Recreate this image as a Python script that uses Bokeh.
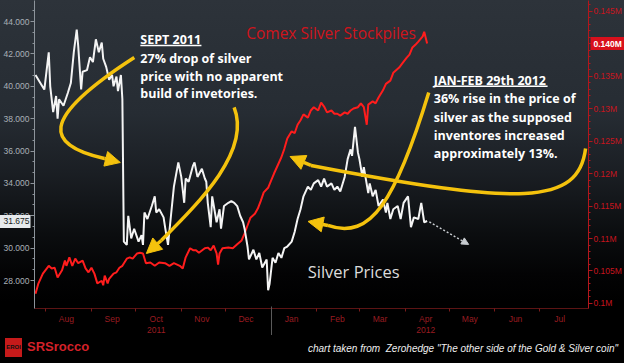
import pandas as pd
from bokeh.plotting import figure
from bokeh.layouts import column
from bokeh.models import (Range1d, LinearAxis, FixedTicker, NumeralTickFormatter,
                          Label, Arrow, NormalHead, Div)
from bokeh.embed import file_html
from bokeh.resources import INLINE

EPOCH = pd.Timestamp("2012-01-01")

# ---------------- data ----------------
silver_dates = [
    "2011-07-25", "2011-07-29", "2011-07-31", "2011-08-03", "2011-08-04", "2011-08-06",
    "2011-08-08", "2011-08-09", "2011-08-10", "2011-08-13", "2011-08-16", "2011-08-18",
    "2011-08-20", "2011-08-22", "2011-08-23", "2011-08-25", "2011-08-26", "2011-08-29",
    "2011-08-31", "2011-09-02", "2011-09-04", "2011-09-06", "2011-09-08", "2011-09-09",
    "2011-09-11", "2011-09-13", "2011-09-15", "2011-09-16", "2011-09-18", "2011-09-19",
    "2011-09-21", "2011-09-22", "2011-09-23", "2011-09-25", "2011-09-26", "2011-09-28",
    "2011-09-30", "2011-10-03", "2011-10-05", "2011-10-06", "2011-10-07", "2011-10-09",
    "2011-10-12", "2011-10-14", "2011-10-15", "2011-10-17", "2011-10-20", "2011-10-21",
    "2011-10-23", "2011-10-25", "2011-10-27", "2011-10-30", "2011-11-01", "2011-11-03",
    "2011-11-04", "2011-11-06", "2011-11-09", "2011-11-10", "2011-11-12", "2011-11-15",
    "2011-11-17", "2011-11-18", "2011-11-19", "2011-11-21", "2011-11-22", "2011-11-25",
    "2011-11-27", "2011-11-28", "2011-11-30", "2011-12-03", "2011-12-05", "2011-12-07",
    "2011-12-09", "2011-12-11", "2011-12-13", "2011-12-14", "2011-12-16", "2011-12-17",
    "2011-12-20", "2011-12-22", "2011-12-24", "2011-12-26", "2011-12-29", "2011-12-30",
    "2011-12-31", "2012-01-02", "2012-01-04", "2012-01-06", "2012-01-08", "2012-01-10",
    "2012-01-12", "2012-01-15", "2012-01-17", "2012-01-19", "2012-01-21", "2012-01-23",
    "2012-01-26", "2012-01-28", "2012-01-30", "2012-02-02", "2012-02-04", "2012-02-06",
    "2012-02-08", "2012-02-11", "2012-02-13", "2012-02-15", "2012-02-17", "2012-02-20",
    "2012-02-22", "2012-02-24", "2012-02-25", "2012-02-27", "2012-02-29", "2012-03-01",
    "2012-03-03", "2012-03-04", "2012-03-07", "2012-03-08", "2012-03-10", "2012-03-12",
    "2012-03-14", "2012-03-17", "2012-03-19", "2012-03-20", "2012-03-22", "2012-03-24",
    "2012-03-27", "2012-03-29", "2012-03-31", "2012-04-03", "2012-04-05", "2012-04-07",
    "2012-04-10", "2012-04-12", "2012-04-14", "2012-04-16",
]
silver_prices = [
    40.7, 40.1, 39.8, 42.1, 40.0, 38.4,
    39.4, 38.0, 39.2, 38.8, 39.6, 40.2,
    42.1, 43.5, 42.5, 39.8, 40.9, 41.0,
    41.8, 41.5, 42.9, 42.1, 42.7, 41.7,
    41.2, 40.4, 40.7, 40.0, 40.6, 39.7,
    40.7, 39.2, 30.4, 30.2, 32.0, 30.6,
    31.2, 30.4, 30.8, 30.2, 32.2, 31.8,
    32.6, 33.2, 32.2, 32.4, 31.9, 31.3,
    30.2, 32.0, 33.8, 35.3, 34.4, 32.8,
    34.3, 34.1, 35.1, 35.3, 34.4, 34.9,
    34.3, 34.1, 32.8, 31.3, 33.2, 31.6,
    32.4, 31.2, 32.6, 32.8, 32.9, 32.8,
    32.6, 32.0, 31.6, 31.2, 30.1, 29.3,
    29.9, 29.3, 29.7, 28.8, 29.3, 27.4,
    27.8, 29.4, 29.1, 29.7, 29.4, 30.0,
    30.1, 30.4, 31.0, 31.8, 32.4, 33.2,
    33.8, 33.6, 34.0, 34.2, 33.8, 34.3,
    33.8, 34.0, 33.6, 33.8, 33.5, 34.4,
    35.5, 36.1, 35.7, 37.5, 35.9, 35.5,
    34.4, 35.0, 33.4, 34.0, 33.2, 33.6,
    32.6, 33.0, 32.2, 32.8, 31.8, 32.4,
    32.6, 31.8, 32.8, 33.2, 31.3, 31.9,
    31.8, 32.8, 31.6, 31.675,
]

stock_dates = [
    "2011-07-25", "2011-07-27", "2011-07-30", "2011-08-03", "2011-08-05", "2011-08-07",
    "2011-08-09", "2011-08-12", "2011-08-14", "2011-08-15", "2011-08-17", "2011-08-19",
    "2011-08-21", "2011-08-23", "2011-08-26", "2011-08-28", "2011-08-30", "2011-09-01",
    "2011-09-03", "2011-09-05", "2011-09-08", "2011-09-09", "2011-09-10", "2011-09-12",
    "2011-09-13", "2011-09-16", "2011-09-18", "2011-09-20", "2011-09-22", "2011-09-25",
    "2011-09-27", "2011-09-29", "2011-10-02", "2011-10-04", "2011-10-06", "2011-10-08",
    "2011-10-11", "2011-10-14", "2011-10-17", "2011-10-21", "2011-10-24", "2011-10-27",
    "2011-10-31", "2011-11-02", "2011-11-04", "2011-11-07", "2011-11-09", "2011-11-11",
    "2011-11-13", "2011-11-17", "2011-11-19", "2011-11-21", "2011-11-23", "2011-11-25",
    "2011-11-26", "2011-11-27", "2011-11-29", "2011-12-03", "2011-12-06", "2011-12-09",
    "2011-12-12", "2011-12-14", "2011-12-16", "2011-12-18", "2011-12-21", "2011-12-23",
    "2011-12-25", "2011-12-27", "2011-12-30", "2012-01-01", "2012-01-03", "2012-01-06",
    "2012-01-08", "2012-01-10", "2012-01-12", "2012-01-15", "2012-01-17", "2012-01-19",
    "2012-01-21", "2012-01-23", "2012-01-26", "2012-01-28", "2012-01-30", "2012-02-02",
    "2012-02-04", "2012-02-06", "2012-02-08", "2012-02-11", "2012-02-13", "2012-02-15",
    "2012-02-17", "2012-02-20", "2012-02-22", "2012-02-24", "2012-02-26", "2012-02-29",
    "2012-03-02", "2012-03-04", "2012-03-06", "2012-03-07", "2012-03-10", "2012-03-12",
    "2012-03-14", "2012-03-17", "2012-03-19", "2012-03-22", "2012-03-24", "2012-03-28",
    "2012-03-30", "2012-04-02", "2012-04-04", "2012-04-06", "2012-04-08", "2012-04-10",
    "2012-04-13", "2012-04-14", "2012-04-16",
]
stock_millions = [
    0.1015, 0.1031, 0.1046, 0.1058, 0.1054, 0.1055,
    0.1040, 0.1051, 0.1066, 0.1058, 0.1071, 0.1058,
    0.1069, 0.1062, 0.1066, 0.1054, 0.1048, 0.1055,
    0.1046, 0.1031, 0.1035, 0.1028, 0.1043, 0.1031,
    0.1038, 0.1046, 0.1048, 0.1055, 0.1058, 0.1069,
    0.1071, 0.1069, 0.1077, 0.1078, 0.1077, 0.1062,
    0.1063, 0.1058, 0.1063, 0.1062, 0.1058, 0.1062,
    0.1058, 0.1054, 0.1071, 0.1085, 0.1082, 0.1082,
    0.1078, 0.1085, 0.1086, 0.1082, 0.1089, 0.1077,
    0.1060, 0.1077, 0.1085, 0.1086, 0.1085, 0.1091,
    0.1097, 0.1108, 0.1120, 0.1132, 0.1138, 0.1146,
    0.1158, 0.1171, 0.1178, 0.1189, 0.1200, 0.1215,
    0.1225, 0.1238, 0.1254, 0.1265, 0.1262, 0.1275,
    0.1282, 0.1291, 0.1286, 0.1297, 0.1302, 0.1297,
    0.1309, 0.1303, 0.1294, 0.1297, 0.1292, 0.1292,
    0.1289, 0.1294, 0.1292, 0.1297, 0.1300, 0.1302,
    0.1308, 0.1302, 0.1275, 0.1306, 0.1311, 0.1308,
    0.1317, 0.1328, 0.1338, 0.1343, 0.1355, 0.1363,
    0.1369, 0.1378, 0.1383, 0.1394, 0.1398, 0.1403,
    0.1411, 0.1418, 0.1400,
]

month_starts = ["2011-08-01", "2011-09-01", "2011-10-01", "2011-11-01", "2011-12-01",
                "2012-01-01", "2012-02-01", "2012-03-01", "2012-04-01", "2012-05-01",
                "2012-06-01", "2012-07-01"]
month_labels = ["Aug", "Sep", "Oct", "Nov", "Dec", "Jan", "Feb", "Mar", "Apr", "May",
                "Jun", "Jul"]
year_label_months = ["2011-10-01", "2012-04-01"]
year_labels = ["2011", "2012"]
year_starts = ["2012-01-01"]

silver_ticks = [28, 30, 32, 34, 36, 38, 40, 42, 44]
stock_ticks = [0.100, 0.105, 0.110, 0.115, 0.120, 0.125, 0.130, 0.135, 0.140, 0.145]
stock_tick_labels = ["0.1M", "0.105M", "0.11M", "0.115M", "0.12M", "0.125M", "0.13M",
                     "0.135M", "0.14M", "0.145M"]
last_silver = 31.675
last_stock = 0.140
last_stock_label = "0.140M"


def days(dates):
    return [int(d) for d in (pd.to_datetime(dates) - EPOCH).days]


silver_x = days(silver_dates)
stock_x = days(stock_dates)
month_x = days(month_starts)
month_mid = [d + 14 for d in month_x]
year_mid = [d + 14 for d in days(year_label_months)]
year_div = days(year_starts)

# ---------------- figure ----------------
p = figure(width=624, height=335, output_backend="svg", toolbar_location=None,
           x_range=Range1d(-160.68, 215.59), y_range=Range1d(26.27, 45.30),
           x_axis_type=None, y_axis_type=None,
           min_border_left=33, min_border_right=36, min_border_top=0, min_border_bottom=27,
           background_fill_color=None, border_fill_color=None, outline_line_color=None)
p.extra_y_ranges = {"stock": Range1d(0.09923, 0.14662)}
p.styles = {"background": "linear-gradient(to bottom, #2d333a 0%, #262c33 34%, #1a1e23 52%, "
                          "#0b0d0f 70%, #030304 82%, #000000 90%, #000000 100%)"}

YEL = "#f4c20d"
RED = "#ff1d1d"
AX_RED = "#b3161c"
MON_RED = "#9a1c20"
LAB = "Liberation Sans"

left_minor = [28 + k * 2 / 3 for k in range(0, 26)]
ax_l = LinearAxis(ticker=FixedTicker(ticks=silver_ticks, minor_ticks=left_minor),
                  formatter=NumeralTickFormatter(format="0.000"),
                  axis_line_color="#8d949b", major_tick_line_color="#8d949b",
                  minor_tick_line_color="#8d949b", major_tick_out=4, major_tick_in=0,
                  minor_tick_out=2, minor_tick_in=0, major_label_standoff=1,
                  major_label_text_color="#a9b0b7", major_label_text_font_size="8.5px",
                  major_label_text_font=LAB)
p.add_layout(ax_l, "left")

# last-value tag on the silver axis (thick tick = box, label on top)
tag_l = LinearAxis(ticker=FixedTicker(ticks=[last_silver], minor_ticks=[]),
                   formatter=NumeralTickFormatter(format="0.000"),
                   axis_line_color=None, major_tick_line_color="#e6e9ec",
                   major_tick_line_width=13, major_tick_out=2, major_tick_in=30,
                   minor_tick_line_color=None, minor_tick_out=0, minor_tick_in=0,
                   major_label_standoff=-31,
                   major_label_text_color="#1a1d21", major_label_text_font_size="8.5px",
                   major_label_text_font=LAB)
p.add_layout(tag_l, "left")

right_minor = [0.100 + k * 0.001 for k in range(0, 47)]
ax_r = LinearAxis(y_range_name="stock",
                  ticker=FixedTicker(ticks=stock_ticks, minor_ticks=right_minor),
                  major_label_overrides=dict(zip(stock_ticks, stock_tick_labels)),
                  axis_line_color=AX_RED, major_tick_line_color=AX_RED,
                  minor_tick_line_color=AX_RED, major_tick_out=4, major_tick_in=0,
                  minor_tick_out=2, minor_tick_in=0, major_label_standoff=1,
                  major_label_text_color="#c8141e", major_label_text_font_size="8.5px",
                  major_label_text_font=LAB)
p.add_layout(ax_r, "right")

tag_r = LinearAxis(y_range_name="stock",
                   ticker=FixedTicker(ticks=[last_stock], minor_ticks=[]),
                   major_label_overrides={last_stock: last_stock_label},
                   axis_line_color=None, major_tick_line_color="#d8101c",
                   major_tick_line_width=13, major_tick_out=3, major_tick_in=34,
                   minor_tick_line_color=None, minor_tick_out=0, minor_tick_in=0,
                   major_label_standoff=-34,
                   major_label_text_color="#ffffff", major_label_text_font_style="bold",
                   major_label_text_font_size="8.5px", major_label_text_font=LAB)
p.add_layout(tag_r, "right")

ax_m = LinearAxis(ticker=FixedTicker(ticks=month_mid, minor_ticks=month_x),
                  major_label_overrides=dict(zip(month_mid, month_labels)),
                  axis_line_color="#5c1414", major_tick_line_color=None, major_tick_out=0,
                  major_tick_in=0, minor_tick_line_color="#7a1a1a", minor_tick_out=3,
                  minor_tick_in=0, major_label_standoff=2,
                  major_label_text_color=MON_RED, major_label_text_font_size="8.5px",
                  major_label_text_font=LAB)
p.add_layout(ax_m, "below")

ax_y = LinearAxis(ticker=FixedTicker(ticks=year_mid, minor_ticks=year_div),
                  major_label_overrides=dict(zip(year_mid, year_labels)),
                  axis_line_color=None, major_tick_line_color=None, major_tick_out=0,
                  major_tick_in=0, minor_tick_line_color="#5a5a5a", minor_tick_out=12,
                  minor_tick_in=20, major_label_standoff=-12,
                  major_label_text_color=MON_RED, major_label_text_font_size="8.5px",
                  major_label_text_font=LAB)
p.add_layout(ax_y, "below")

# ---------------- series ----------------
p.line(stock_x, stock_millions, y_range_name="stock", line_color=RED, line_width=2)
p.line(silver_x, silver_prices, line_color="#f4f4f4", line_width=2)

# ---------------- yellow annotation arrows (day offset, price) ----------------
curves = [
    # x0, y0, cx0, cy0, cx1, cy1, x1, y1, tip_x, tip_y
    (-92.9, 41.78, -159.3, 37.89, -152.5, 36.34, -113.2, 35.54, -102.4, 35.29),
    (-25.1, 38.69, -13.6, 36.03, -47.5, 32.94, -74.6, 30.47, -84.7, 29.67),
    (213.6, 36.16, 208.8, 32.63, 169.5, 32.63, 27.1, 35.11, 12.9, 35.66),
    (107.1, 39.61, 84.7, 32.94, 67.8, 30.47, 38.6, 31.40, 25.1, 31.65),
]
for c in curves:
    p.bezier(x0=[c[0]], y0=[c[1]], cx0=[c[2]], cy0=[c[3]], cx1=[c[4]], cy1=[c[5]],
             x1=[c[6]], y1=[c[7]], line_color=YEL, line_width=3.5)
    p.add_layout(Arrow(end=NormalHead(size=15, fill_color=YEL, line_color=YEL, line_width=1),
                       x_start=c[6], y_start=c[7], x_end=c[8], y_end=c[9],
                       line_color=YEL, line_width=3.5))

# dotted forecast arrow
p.add_layout(Arrow(end=NormalHead(size=7, fill_color="#c8ccd0", line_color="#c8ccd0"),
                   x_start=107.5, y_start=31.62, x_end=134.2, y_end=30.23,
                   line_color="#c8ccd0", line_width=1.5, line_dash="2 2"))

# ---------------- texts ----------------
def txt(x, y, s, size, color, style="normal", font="Open Sans"):
    p.add_layout(Label(x=x, y=y, text=s, text_font_size=size, text_color=color,
                       text_font_style=style, text_font=font, text_align="left",
                       text_baseline="alphabetic"))


sept = ["SEPT 2011", "27% drop of silver", "price with no apparent", "build of invetories."]
sept_y = [42.87, 41.73, 40.62, 39.57]
for s, y in zip(sept, sept_y):
    txt(-88.8, y, s, "12.5px", "#ffffff", "bold")
p.segment(x0=[-88.8], y0=[42.52], x1=[-47.3], y1=[42.52], line_color="#ffffff", line_width=1.5)

janfeb = ["JAN-FEB 29th 2012", "36% rise in the price of", "silver as the supposed",
          "inventores increased", "approximately 13%."]
janfeb_y = [40.37, 39.23, 38.09, 36.95, 35.83]
for s, y in zip(janfeb, janfeb_y):
    txt(110.5, y, s, "12.5px", "#ffffff", "bold")
p.segment(x0=[110.5], y0=[40.0], x1=[187.8], y1=[40.0], line_color="#ffffff", line_width=1.5)

txt(-16.9, 43.27, "Comex Silver Stockpiles", "15.5px", "#d0141c")
txt(24.9, 28.56, "Silver Prices", "16.5px", "#dcdcdc")

# ---------------- footer ----------------
footer_html = (
    '<div style="position:relative;width:624px;height:28px;background:#000;">'
    '<span style="position:absolute;left:5px;top:3px;width:17px;height:19px;'
    'background:#c61a1a;color:#111;font:bold 6px \'Liberation Sans\';line-height:19px;'
    'text-align:center;">EROI</span>'
    '<span style="position:absolute;left:27px;top:4px;color:#d42129;'
    'font:bold 13px \'Liberation Sans\';">SRSrocco</span>'
    '<span style="position:absolute;right:6px;top:8px;color:#efefef;'
    'font:italic 10px \'Liberation Sans\';white-space:nowrap;">chart taken from&nbsp; '
    'Zerohedge "The other side of the Gold &amp; Silver coin"</span>'
    '</div>'
)
footer = Div(text=footer_html, width=624, height=28, margin=0,
             styles={"background": "#000000"})

layout = column(p, footer, spacing=0)
open("out.html", "w").write(file_html(layout, INLINE))
